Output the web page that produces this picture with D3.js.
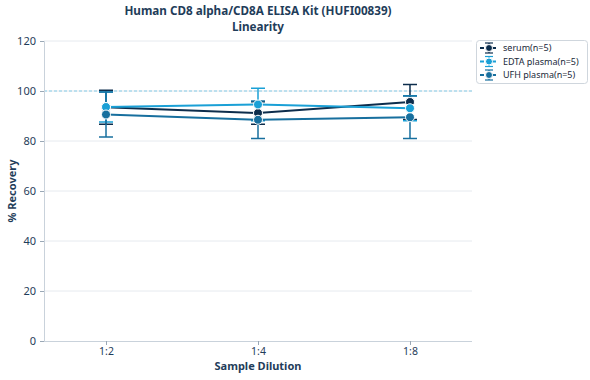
<!DOCTYPE html>
<html><head><meta charset="utf-8">
<script src="https://cdn.jsdelivr.net/npm/d3@7"></script>
<style>body{margin:0;background:#fff;} svg{font-family:"Noto Sans",sans-serif;}</style>
</head><body>
<svg id="c" width="590" height="380"></svg>
<script>
const categories = ["1:2", "1:4", "1:8"];
const seriesNames = ["serum(n=5)", "EDTA plasma(n=5)", "UFH plasma(n=5)"];
const serum = [93.5, 91.2, 95.6];
const serumErr = [6.8, 4.5, 7.0];
const edta = [93.6, 94.6, 93.1];
const edtaErr = [6.0, 6.5, 5.0];
const ufh = [90.6, 88.5, 89.5];
const ufhErr = [9.0, 7.5, 8.5];
const yTicks = [0, 20, 40, 60, 80, 100, 120];
const colors = ["#0d2d4c", "#1aa0d6", "#176f9e"];

const series = [
  {name: seriesNames[0], values: serum, err: serumErr, color: colors[0]},
  {name: seriesNames[1], values: edta, err: edtaErr, color: colors[1]},
  {name: seriesNames[2], values: ufh, err: ufhErr, color: colors[2]}
];

const svg = d3.select("#c");
const L = 44, R = 472, T = 41, B = 341;
const x = d3.scalePoint().domain(categories).range([L, R]).padding(0.408);
const y = d3.scaleLinear().domain([0, 120]).range([B, T]);
const txt = "#1f3d5a";

// gridlines
svg.append("g").selectAll("line").data(yTicks.filter(d => d > 0)).join("line")
  .attr("x1", L).attr("x2", R).attr("y1", d => y(d)).attr("y2", d => y(d))
  .attr("stroke", "#e6eaef").attr("stroke-width", 1);

// reference line at 100
svg.append("line").attr("x1", L).attr("x2", R).attr("y1", y(100)).attr("y2", y(100))
  .attr("stroke", "#86cbe6").attr("stroke-width", 1).attr("stroke-dasharray", "3,2");

// y axis
const ya = svg.append("g").attr("transform", `translate(${L},0)`)
  .call(d3.axisLeft(y).tickValues(yTicks).tickSize(4).tickPadding(4));
ya.select(".domain").attr("stroke", "#c9d2db");
ya.selectAll(".tick line").attr("stroke", "#9aa8b6");
ya.selectAll("text").attr("fill", txt).attr("font-size", 11).attr("font-family", "Noto Sans");

// x axis
const xa = svg.append("g").attr("transform", `translate(0,${B})`)
  .call(d3.axisBottom(x).tickSize(4).tickPadding(3).tickSizeOuter(0));
xa.select(".domain").attr("stroke", "#c9d2db").attr("d", `M${L},0.5H${R}`);
xa.selectAll(".tick line").attr("stroke", "#9aa8b6");
xa.selectAll("text").attr("fill", txt).attr("font-size", 10.5).attr("font-family", "Noto Sans");

// titles
svg.append("text").attr("x", 258).attr("y", 15).attr("text-anchor", "middle")
  .attr("font-size", 11.7).attr("font-weight", "bold").attr("fill", txt)
  .text("Human CD8 alpha/CD8A ELISA Kit (HUFI00839)");
svg.append("text").attr("x", 258).attr("y", 31).attr("text-anchor", "middle")
  .attr("font-size", 11.7).attr("font-weight", "bold").attr("fill", txt)
  .text("Linearity");
svg.append("text").attr("x", 258).attr("y", 370).attr("text-anchor", "middle")
  .attr("font-size", 11).attr("font-weight", "bold").attr("fill", txt)
  .text("Sample Dilution");
svg.append("text").attr("transform", "translate(16,191) rotate(-90)").attr("text-anchor", "middle")
  .attr("font-size", 11).attr("font-weight", "bold").attr("fill", txt)
  .text("% Recovery");

// error bars
const capW = 7;
series.forEach(s => {
  const g = svg.append("g");
  categories.forEach((c, i) => {
    const cx = x(c), hi = y(s.values[i] + s.err[i]), lo = y(s.values[i] - s.err[i]);
    g.append("line").attr("x1", cx).attr("x2", cx).attr("y1", hi).attr("y2", lo)
      .attr("stroke", s.color).attr("stroke-width", 1.5);
    [hi, lo].forEach(yy => g.append("line").attr("x1", cx - capW).attr("x2", cx + capW)
      .attr("y1", yy).attr("y2", yy).attr("stroke", s.color).attr("stroke-width", 1.5));
  });
});

// lines
const line = d3.line().x((d, i) => x(categories[i])).y(d => y(d));
series.forEach(s => {
  svg.append("path").datum(s.values).attr("d", line).attr("fill", "none")
    .attr("stroke", s.color).attr("stroke-width", 2);
});
// points
series.forEach(s => {
  svg.append("g").selectAll("circle").data(s.values).join("circle")
    .attr("cx", (d, i) => x(categories[i])).attr("cy", d => y(d)).attr("r", 4.5)
    .attr("fill", s.color).attr("stroke", "#fff").attr("stroke-width", 1);
});

// legend
const lg = svg.append("g");
lg.append("rect").attr("x", 476.5).attr("y", 40.5).attr("width", 111).attr("height", 43)
  .attr("rx", 3).attr("fill", "#fff").attr("stroke", "#cfd6dd");
series.forEach((s, i) => {
  const yy = 48 + i * 13.5, cx = 489;
  const g = lg.append("g");
  g.append("line").attr("x1", cx - 9).attr("x2", cx + 9).attr("y1", yy).attr("y2", yy)
    .attr("stroke", s.color).attr("stroke-width", 2).attr("stroke-dasharray", "4,2");
  g.append("line").attr("x1", cx).attr("x2", cx).attr("y1", yy - 5).attr("y2", yy + 5)
    .attr("stroke", s.color).attr("stroke-width", 1.2);
  [yy - 5, yy + 5].forEach(v => g.append("line").attr("x1", cx - 4).attr("x2", cx + 4)
    .attr("y1", v).attr("y2", v).attr("stroke", s.color).attr("stroke-width", 1.2));
  g.append("circle").attr("cx", cx).attr("cy", yy).attr("r", 3.5).attr("fill", s.color)
    .attr("stroke", "#fff").attr("stroke-width", 1);
  g.append("text").attr("x", 503).attr("y", yy + 3.2).attr("font-size", 9)
    .attr("fill", "#1a2a3a").text(s.name);
});
</script>
</body></html>
